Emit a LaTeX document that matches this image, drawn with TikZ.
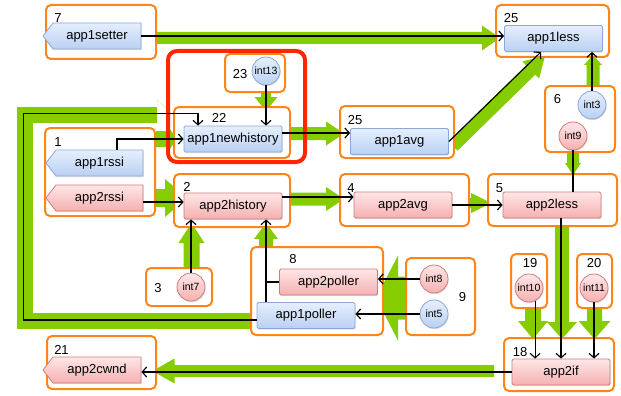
\documentclass[tikz,border=0pt]{standalone}
\usepackage{fontspec}
\setmainfont{Liberation Sans}
\usetikzlibrary{arrows.meta,calc,shapes.symbols,shadows,backgrounds}

\definecolor{grn}{RGB}{133,204,0}
\definecolor{org}{RGB}{255,133,25}
\definecolor{redframe}{RGB}{255,38,0}
\definecolor{bluetop}{RGB}{229,239,253}
\definecolor{bluebot}{RGB}{186,208,242}
\definecolor{blueedge}{RGB}{140,168,214}
\definecolor{pinktop}{RGB}{254,231,231}
\definecolor{pinkbot}{RGB}{245,176,176}
\definecolor{pinkedge}{RGB}{212,124,124}

% wide flat arrow: from, to, half band width, half head width, head length
\newcommand\garrow[5]{%
  \coordinate (ga) at (#1);
  \coordinate (gb) at (#2);
  \coordinate (gc) at ($(gb)!#5!(ga)$);
  \fill[grn] ($(ga)!#3!90:(gb)$) -- ($(gc)!#3!-90:(ga)$) -- ($(gc)!#4!-90:(ga)$)
    -- (gb) -- ($(gc)!#4!90:(ga)$) -- ($(gc)!#3!90:(ga)$) -- ($(ga)!#3!-90:(gb)$) -- cycle;
}

\begin{document}
\begin{tikzpicture}[x=1pt,y=-1pt,
  shade/.style={drop shadow={shadow xshift=0.6pt,shadow yshift=-1.2pt,opacity=0.25}},
  box/.style={rectangle, rounded corners=1.5pt, minimum width=98pt, minimum height=26pt,
    inner sep=0pt, font=\fontsize{13}{15}\selectfont, shade},
  bbox/.style={box, draw=blueedge, line width=0.8pt, top color=bluetop, bottom color=bluebot},
  rbox/.style={box, draw=pinkedge, line width=0.8pt, top color=pinktop, bottom color=pinkbot},
  sig/.style={shape=signal, signal to=west, signal pointer angle=105, sharp corners},
  ball/.style={circle, minimum size=28pt, inner sep=0pt, font=\fontsize{10.5}{12}\selectfont,
    line width=0.8pt, shade},
  bball/.style={ball, draw=blueedge, top color=bluetop, bottom color=bluebot},
  rball/.style={ball, draw=pinkedge, top color=pinktop, bottom color=pinkbot},
  grp/.style={draw=org, line width=2pt, rounded corners=5pt, fill=white, inner sep=0pt},
  num/.style={font=\fontsize{13}{15}\selectfont, inner sep=0pt},
  wire/.style={line width=1.15pt},
  blk/.style={wire, -{Straight Barb[length=4.5pt,width=10pt]}},
]
\useasboundingbox (0,0) rectangle (621,396);

% ---- group frames ----
\node[grp, minimum width=110pt, minimum height=54pt] (g7)   at (101,32) {};
\node[grp, minimum width=113pt, minimum height=52pt] (g25a) at (552.5,31) {};
\node[grp, minimum width=60pt,  minimum height=38pt] (g23)  at (255,73) {};
\node[grp, minimum width=116pt, minimum height=51pt] (g22)  at (232,132.5) {};
\node[grp, minimum width=110pt, minimum height=88pt] (g1)   at (100,172) {};
\node[grp, minimum width=116pt, minimum height=53pt] (g2)   at (232,200.5) {};
\node[grp, minimum width=114pt, minimum height=52pt] (g25b) at (397,132) {};
\node[grp, minimum width=129pt, minimum height=52pt] (g4)   at (404.5,200) {};
\node[grp, minimum width=129pt, minimum height=52pt] (g5)   at (552.5,200) {};
\node[grp, minimum width=70pt,  minimum height=66pt] (g6)   at (580,119) {};
\node[grp, minimum width=66pt,  minimum height=38pt] (g3)   at (179,287) {};
\node[grp, minimum width=132pt, minimum height=88pt] (g8)   at (317,291) {};
\node[grp, minimum width=69pt,  minimum height=77pt] (g9)   at (440.5,296.5) {};
\node[grp, minimum width=36pt,  minimum height=54pt] (g19)  at (529,281) {};
\node[grp, minimum width=35pt,  minimum height=54pt] (g20)  at (594.5,281) {};
\node[grp, minimum width=110pt, minimum height=53pt] (g18)  at (559,364.5) {};
\node[grp, minimum width=109pt, minimum height=53pt] (g21)  at (101.5,362.5) {};

% ---- wide green flow arrows, behind the frames ----
\begin{scope}[on background layer]
  % feedback loop from the poller group back to group 22
  \draw[grn, line width=16pt, line join=miter, line cap=butt]
    ($(g8.west)+(2,29.5)$) -- ++(-227,0) |- ($(g22.west)+(-16,-18)$);
  \garrow{$(g22.west)+(-16,-18)$}{$(g22.west)+(0,-18)$}{8pt}{15pt}{16pt}
  \garrow{$(g7.east)+(0,6)$}{$(g25a.west)+(5,7)$}{6pt}{12.5pt}{18pt}
  \garrow{$(g1.east)+(0,-33)$}{$(g22.west)+(4,6.5)$}{8pt}{14pt}{10pt}
  \garrow{$(g1.east)+(0,26)$}{$(g2.west)+(14,-2.5)$}{9pt}{19pt}{22pt}
  \garrow{$(g22.east)+(0,1)$}{$(g25b.west)+(5,1.5)$}{6.5pt}{12pt}{18pt}
  \garrow{$(g2.east)+(0,-1.5)$}{$(g4.west)+(5,-1)$}{6.5pt}{12pt}{18pt}
  \garrow{$(g4.east)+(0,3)$}{$(g5.west)+(4,3)$}{5pt}{10pt}{20pt}
  \garrow{$(g25b.east)+(-2,14)$}{$(g25a.south)+(-7.5,-2)$}{6.5pt}{12pt}{20pt}
  \garrow{$(g6.north)+(13,0)$}{$(g25a.south)+(40.5,-3)$}{6.5pt}{9pt}{10pt}
  \garrow{$(g6.south)+(-7,0)$}{$(g5.north)+(20.5,2)$}{6pt}{8pt}{12pt}
  \garrow{$(g5.south)+(9.5,0)$}{$(g18.north)+(3,2)$}{7pt}{15pt}{17pt}
  \garrow{$(g19.south)+(4,0)$}{$(g18.north)+(-26,2)$}{8pt}{15pt}{18pt}
  \garrow{$(g20.south)+(0,0)$}{$(g18.north)+(35.5,2)$}{7.5pt}{16pt}{18pt}
  \garrow{$(g18.west)+(-9,6.5)$}{$(g21.east)+(-4.5,8.5)$}{6pt}{12.5pt}{22pt}
  \garrow{$(g3.north)+(12.5,0)$}{$(g2.south)+(-40.5,-5)$}{8pt}{13pt}{20pt}
  \garrow{$(g8.north)+(-51,0)$}{$(g2.south)+(34,-5)$}{7pt}{12pt}{16pt}
  \garrow{$(g9.west)+(0,1.5)$}{$(g8.east)+(-8,7)$}{21.5pt}{42.5pt}{22pt}
  \garrow{$(g23.south)+(11,0)$}{$(g22.north)+(34,5)$}{5pt}{11.5pt}{14pt}
\end{scope}

% highlighted region
\node[draw=redframe, line width=4pt, rounded corners=9pt, minimum width=137pt,
  minimum height=111pt, inner sep=0pt] (focus) at (236.5,106.5) {};

% ---- group numbers ----
\node[num] (l7)   at (58,18)    {7};
\node[num] (l25a) at (511,18)   {25};
\node[num] (l23)  at (240,74)   {23};
\node[num] (l22)  at (219,118)  {22};
\node[num] (l1)   at (58,142)   {1};
\node[num] (l2)   at (187,187)  {2};
\node[num] (l25b) at (355,120)  {25};
\node[num] (l4)   at (351,188)  {4};
\node[num] (l5)   at (499.5,188){5};
\node[num] (l6)   at (557.5,99) {6};
\node[num] (l3)   at (158,288)  {3};
\node[num] (l8)   at (293,259)  {8};
\node[num] (l9)   at (462.5,297){9};
\node[num] (l19)  at (530,263)  {19};
\node[num] (l20)  at (594,263)  {20};
\node[num] (l18)  at (520,352)  {18};
\node[num] (l21)  at (61.5,350) {21};

% ---- components ----
\node[bbox, sig] (app1setter)     at (97,36)      {app1setter};
\node[bbox]      (app1less)       at (553.5,38.5) {app1less};
\node[bbox]      (app1newhistory) at (233,139)    {app1newhistory};
\node[bbox, sig, minimum width=97pt] (app1rssi) at (99.5,163) {app1rssi};
\node[rbox, sig, minimum width=97pt] (app2rssi) at (99.5,198) {app2rssi};
\node[rbox]      (app2history)    at (233,206)    {app2history};
\node[bbox]      (app1avg)        at (399.5,141.5){app1avg};
\node[rbox]      (app2avg)        at (403,205)    {app2avg};
\node[rbox]      (app2less)       at (552,205)    {app2less};
\node[rbox]      (app2poller)     at (328.5,282)  {app2poller};
\node[bbox]      (app1poller)     at (306,315.5)  {app1poller};
\node[rbox]      (app2if)         at (561,372)    {app2if};
\node[rbox, sig] (app2cwnd)       at (97,370)     {app2cwnd};

\node[bball] (int13) at (266,71)  {int13};
\node[bball] (int3)  at (592,105) {int3};
\node[rball] (int9)  at (573,136) {int9};
\node[rball] (int7)  at (191,287) {int7};
\node[rball] (int8)  at (434,279) {int8};
\node[bball] (int5)  at (434,314) {int5};
\node[rball] (int10) at (529,288) {int10};
\node[rball] (int11) at (594,288) {int11};

% ---- data flow wires ----
\draw[blk] (app1setter.east) -- (app1setter.east -| app1less.west);
\draw[blk] ([yshift=-4.5pt]app1poller.west) -- ++(-233,0)
  |- ([xshift=-35pt,yshift=12pt]app1newhistory.north) -- ([xshift=-35pt]app1newhistory.north);
\draw[blk] ([xshift=17.5pt]app1rssi.north) |- (app1newhistory.west);
\draw[blk] ([yshift=-4pt]app2rssi.east) -- ([yshift=-4pt]app2rssi.east -| app2history.west);
\draw[blk] (int13.south) -- (int13.south |- app1newhistory.north);
\draw[blk] ([yshift=6pt]app1newhistory.east) -- ([yshift=6pt]app1newhistory.east -| app1avg.west);
\draw[blk] ([yshift=9pt]app2history.east) -- ([yshift=9pt]app2history.east -| app2avg.west);
\draw[blk] (app2avg.east) -- (app2avg.east -| app2less.west);
\draw[blk] (app1avg.east) -- ([xshift=-12.5pt]app1less.south);
\draw[blk] (int3.north) -- (int3.north |- app1less.south);
\draw[wire] (int9.south) -- (int9.south |- app2less.north);
\draw[blk] ([xshift=9pt]app2less.south) -- ([xshift=9pt]app2less.south |- app2if.north);
\draw[blk] (int10.-65) -- (int10.-65 |- app2if.north);
\draw[blk] (int11.south) -- (int11.south |- app2if.north);
\draw[blk] (app2if.west) -- (app2if.west -| app2cwnd.east);
\draw[blk] (int7.north) -- (int7.north |- app2history.south);
\draw[blk] ([xshift=-40pt]app1poller.north) -- ([xshift=-40pt]app1poller.north |- app2history.south);
\draw[wire] (app2poller.west) -- ([xshift=-40pt]app1poller.north |- app2poller.west);
\draw[blk] (int8.west) -- (int8.west -| app2poller.east);
\draw[blk] (int5.west) -- (int5.west -| app1poller.east);
\end{tikzpicture}
\end{document}
